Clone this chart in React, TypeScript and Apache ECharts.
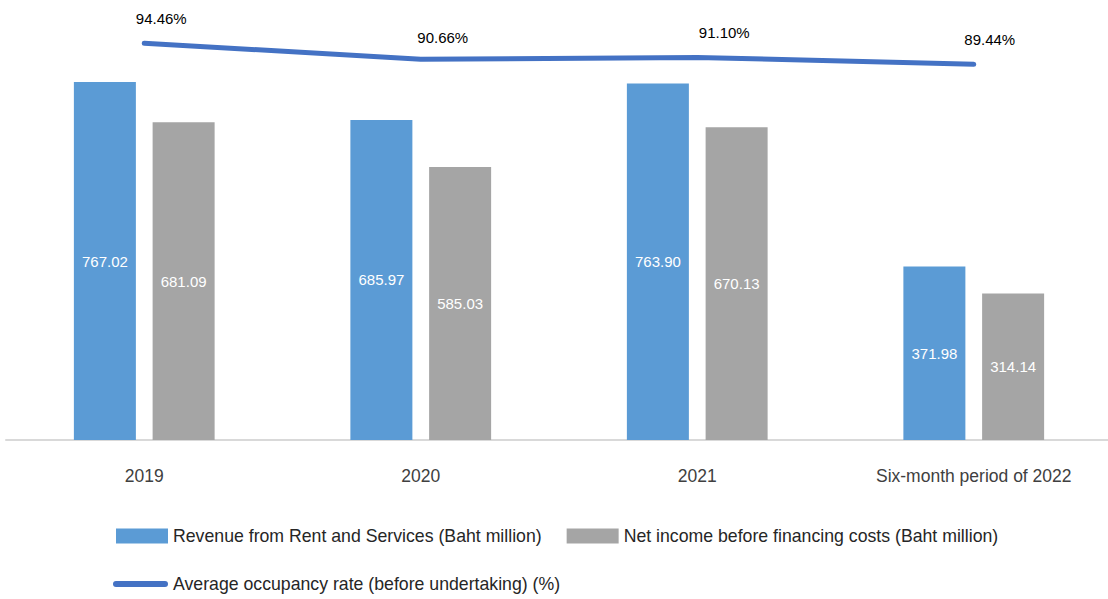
import React, { useEffect, useRef } from "react";
import * as echarts from "echarts";

const categories = ["2019", "2020", "2021", "Six-month period of 2022"];
const revenue = [767.02, 685.97, 763.9, 371.98];
const netIncome = [681.09, 585.03, 670.13, 314.14];
const occupancy = [94.46, 90.66, 91.1, 89.44];

const seriesNames = [
  "Revenue from Rent and Services (Baht million)",
  "Net income before financing costs (Baht million)",
  "Average occupancy rate (before undertaking) (%)",
];

// label placement offsets for the occupancy labels (style only)
const occLabelOffsets = [
  [17, -25],
  [22, -22],
  [27, -25],
  [16, -25],
];

const FONT = "'Liberation Sans', Arial, sans-serif";

export default function App() {
  const ref = useRef<HTMLDivElement>(null);
  useEffect(() => {
    if (!ref.current) return;
    const chart = echarts.init(ref.current, undefined, { renderer: "svg" });
    chart.setOption({
      animation: false,
      textStyle: { fontFamily: FONT },
      grid: { left: 6, right: 0, top: 20, bottom: 159, containLabel: false },
      legend: [
        {
          data: [seriesNames[0], seriesNames[1]],
          left: 116,
          top: 527,
          padding: 0,
          icon: "rect",
          itemWidth: 52,
          itemHeight: 15,
          itemGap: 25,
          textStyle: { fontSize: 17.7, color: "#262626", fontFamily: FONT },
        },
        {
          data: [
            {
              name: seriesNames[2],
              icon: "path://M3,0 H52 A3,3 0 0 1 52,6 H3 A3,3 0 0 1 3,0 Z",
            },
          ],
          left: 113,
          top: 575,
          padding: 0,
          itemWidth: 55,
          itemHeight: 6,
          textStyle: { fontSize: 17.7, color: "#262626", fontFamily: FONT },
        },
      ],
      xAxis: {
        type: "category",
        data: categories,
        axisLine: { show: true, lineStyle: { color: "#D9D9D9", width: 2 } },
        axisTick: { show: false },
        axisLabel: { fontSize: 17.5, color: "#404040", margin: 27, fontFamily: FONT },
      },
      yAxis: [
        { type: "value", min: 0, max: 900, show: false, splitLine: { show: false } },
        { type: "value", min: 0, max: 100, show: false, splitLine: { show: false } },
      ],
      series: [
        {
          name: seriesNames[0],
          type: "bar",
          data: revenue,
          barWidth: 62,
          barGap: "27%",
          itemStyle: { color: "#5B9BD5" },
          label: {
            show: true,
            position: "inside",
            color: "#FFFFFF",
            fontSize: 15,
            fontFamily: FONT,
            formatter: (p: any) => p.value.toFixed(2),
          },
        },
        {
          name: seriesNames[1],
          type: "bar",
          data: netIncome,
          barWidth: 62,
          barGap: "27%",
          itemStyle: { color: "#A5A5A5" },
          label: {
            show: true,
            position: "inside",
            color: "#FFFFFF",
            fontSize: 15,
            fontFamily: FONT,
            formatter: (p: any) => p.value.toFixed(2),
          },
        },
        {
          name: seriesNames[2],
          type: "line",
          yAxisIndex: 1,
          data: occupancy.map((v, i) => ({
            value: v,
            label: { offset: occLabelOffsets[i] },
          })),
          symbol: "circle",
          symbolSize: 0,
          showSymbol: true,
          lineStyle: { color: "#4472C4", width: 5, cap: "round", join: "round" },
          itemStyle: { color: "#4472C4" },
          label: {
            show: true,
            position: "inside",
            color: "#000000",
            fontSize: 15,
            fontFamily: FONT,
            formatter: (p: any) => p.value.toFixed(2) + "%",
          },
        },
      ],
    });
    return () => chart.dispose();
  }, []);
  return (
    <div
      ref={ref}
      style={{ position: "fixed", left: 0, top: 0, width: 1112, height: 599, background: "#fff" }}
    />
  );
}
